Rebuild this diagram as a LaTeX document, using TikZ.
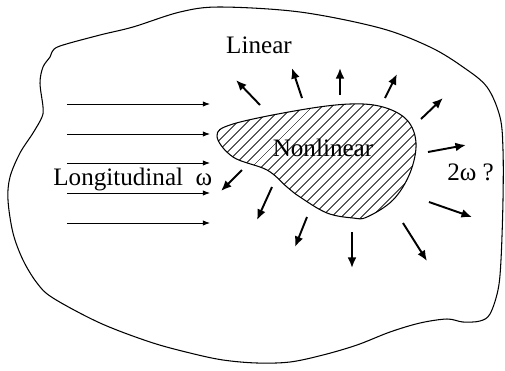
\documentclass[tikz,border=0pt]{standalone}
\usepackage{fontspec}
\setmainfont{Liberation Serif}
\usetikzlibrary{arrows.meta, patterns.meta}

\begin{document}
\begin{tikzpicture}[
    x=0.02cm, y=-0.02cm,
    outline/.style={line width=0.6pt},
    region/.style={line width=0.6pt, pattern={Lines[angle=45, distance=4pt, line width=0.5pt]}},
    incident/.style={line width=0.5pt, -{Latex[length=4pt, width=3pt]}},
    ray/.style={line width=1.1pt, -{Latex[length=6pt, width=5pt]}},
    label/.style={font=\fontsize{14.3}{17}\selectfont, inner sep=0pt}
]
\useasboundingbox (0,0) rectangle (505,370);

% outer medium
\draw[outline] plot[smooth cycle, tension=0.55] coordinates {
    (52,52) (60,46) (100,35) (133,27) (180,12) (220,7) (300,12) (380,28)
    (430,47) (463,67) (487,87) (500,117) (503,150) (503,200) (501,260)
    (498,290) (490,314) (480,321) (463,322) (447,319) (420,323) (390,332)
    (357,345) (323,355) (290,362) (257,363) (223,360) (190,353) (150,342)
    (100,323) (53,298) (37,283) (23,260) (13,233) (8,200) (10,177) (20,153)
    (33,133) (42,117) (43,107) (40,83) (43,67) (50,57)};

% nonlinear region
\draw[region] plot[smooth cycle, tension=0.6] coordinates {
    (217,136) (233,124) (300,110) (350,104) (383,107) (407,120) (416,143)
    (410,173) (393,200) (367,217) (353,218) (327,213) (300,197) (287,187)
    (267,170) (233,157)};

% incident wave
\foreach \y in {104,134,163,193,223}
    \draw[incident] (67,\y) -- (210,\y);

% scattered waves
\foreach \sx/\sy/\ex/\ey in {260/105/236/80, 302/98/292/68, 340/95/340/68,
    385/98/397/74, 421/119/443/98, 428/152/466/145, 429/202/472/217,
    403/223/427/261, 352/232/352/268, 307/217/295/247, 272/187/257/220,
    242/170/221/191}
    \draw[ray] (\sx,\sy) -- (\ex,\ey);

\node[label] (linear) at (259,45) {Linear};
\node[label] (nonlinear) at (323,148) {Nonlinear};
\node[label, anchor=base west] (longitudinal) at (53,185) {Longitudinal\ \ ω};
\node[label, anchor=base west] (harmonic) at (447,180) {2ω ?};
\end{tikzpicture}
\end{document}
